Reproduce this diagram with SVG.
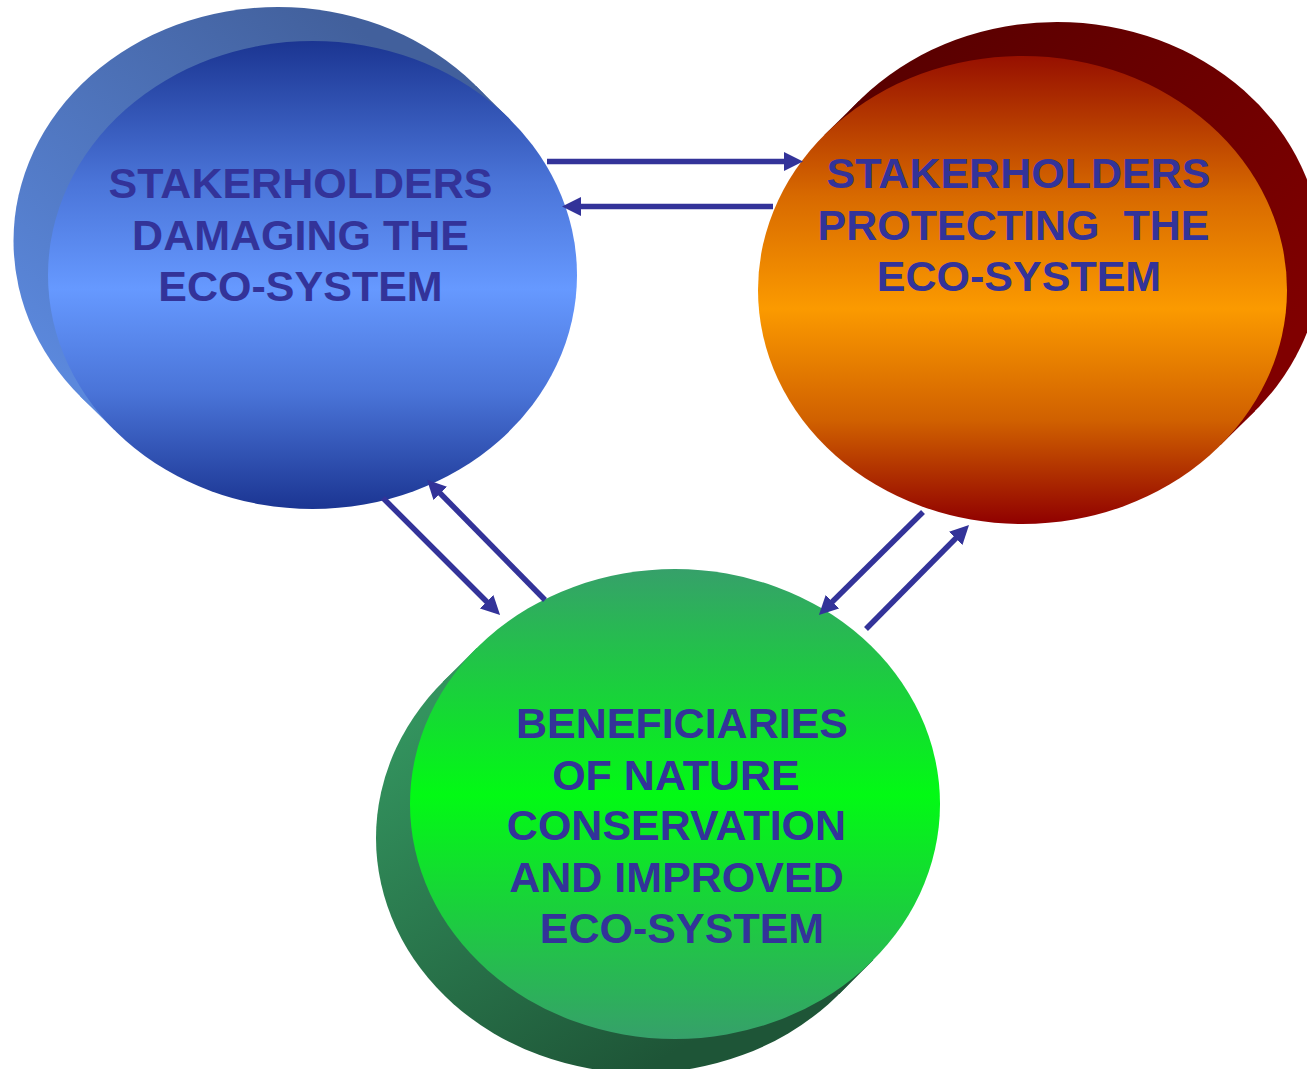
<svg xmlns="http://www.w3.org/2000/svg" width="1307" height="1069" viewBox="0 0 1307 1069">
<defs>
<linearGradient id="gBlue" x1="0" y1="0" x2="0" y2="1"><stop offset="0" stop-color="#1b3592"/><stop offset="0.3" stop-color="#4a74d8"/><stop offset="0.53" stop-color="#6699ff"/><stop offset="0.75" stop-color="#4a74d8"/><stop offset="1" stop-color="#1b3592"/></linearGradient>
<linearGradient id="gBlueSide" x1="0.6" y1="0" x2="0" y2="0.7"><stop offset="0" stop-color="#42609c"/><stop offset="1" stop-color="#5b88dc"/></linearGradient>
<linearGradient id="gOrange" x1="0" y1="0" x2="0" y2="1"><stop offset="0" stop-color="#971000"/><stop offset="0.3" stop-color="#d86a00"/><stop offset="0.54" stop-color="#fb9a00"/><stop offset="0.78" stop-color="#d06000"/><stop offset="1" stop-color="#900000"/></linearGradient>
<linearGradient id="gOrangeSide" x1="0.3" y1="0" x2="1" y2="0.6"><stop offset="0" stop-color="#5a0000"/><stop offset="1" stop-color="#800000"/></linearGradient>
<linearGradient id="gGreen" x1="0" y1="0" x2="0" y2="1"><stop offset="0" stop-color="#36a06a"/><stop offset="0.48" stop-color="#02fa14"/><stop offset="1" stop-color="#36a06a"/></linearGradient>
<linearGradient id="gGreenSide" x1="0" y1="0.3" x2="0.5" y2="1"><stop offset="0" stop-color="#33935e"/><stop offset="1" stop-color="#1e5537"/></linearGradient>
<marker id="arrow" markerUnits="userSpaceOnUse" markerWidth="22" markerHeight="20" refX="9" refY="9.5" orient="auto">
<path d="M0,0 L19,9.5 L0,19 z" fill="#333399"/>
</marker>
</defs>
<style>
.lbl{font-family:"Liberation Sans",Arial,sans-serif;font-weight:bold;font-size:43px;fill:#333399;text-anchor:middle}
.conn{stroke:#333399;stroke-width:5.5;fill:none;marker-end:url(#arrow)}
</style>
<rect width="1307" height="1069" fill="#ffffff"/>
<g id="node-damaging">
<ellipse cx="278" cy="241" rx="264.5" ry="234" fill="url(#gBlueSide)"/>
<polygon points="510.6,120 476.1,86 79.9,396 114.4,430" fill="url(#gBlueSide)"/>
<ellipse cx="312.5" cy="275" rx="264.5" ry="234" fill="url(#gBlue)"/>
<text class="lbl" x="300.5" y="198">STAKERHOLDERS</text>
<text class="lbl" x="300.5" y="250">DAMAGING THE</text>
<text class="lbl" x="300.5" y="301">ECO-SYSTEM</text>
</g>
<g id="node-protecting">
<ellipse cx="1057" cy="256" rx="264.5" ry="234" fill="url(#gOrangeSide)"/>
<polygon points="824.4,135 858.9,101 1255.1,411 1220.6,445" fill="url(#gOrangeSide)"/>
<ellipse cx="1022.5" cy="290" rx="264.5" ry="234" fill="url(#gOrange)"/>
<text class="lbl" x="1018.5" y="188">STAKERHOLDERS</text>
<text class="lbl" x="1013.5" y="240" xml:space="preserve">PROTECTING  THE</text>
<text class="lbl" x="1019" y="291">ECO-SYSTEM</text>
</g>
<g id="node-beneficiaries">
<ellipse cx="641" cy="838" rx="265" ry="235" fill="url(#gGreenSide)"/>
<polygon points="476.7,648.1 442.7,682.1 839.3,993.9 873.3,959.9" fill="url(#gGreenSide)"/>
<ellipse cx="675" cy="804" rx="265" ry="235" fill="url(#gGreen)"/>
<text class="lbl" x="682" y="738">BENEFICIARIES</text>
<text class="lbl" x="676" y="790">OF NATURE</text>
<text class="lbl" x="676.5" y="840">CONSERVATION</text>
<text class="lbl" x="676.5" y="892">AND IMPROVED</text>
<text class="lbl" x="682" y="943">ECO-SYSTEM</text>
</g>
<g id="connectors">
<line class="conn" x1="547" y1="161.5" x2="793" y2="161.5"/>
<line class="conn" x1="773" y1="206.5" x2="572" y2="206.5"/>
<line class="conn" x1="383" y1="498" x2="493" y2="608"/>
<line class="conn" x1="545" y1="600" x2="434" y2="487"/>
<line class="conn" x1="923" y1="512" x2="826" y2="608"/>
<line class="conn" x1="866" y1="629" x2="962" y2="532"/>
</g>
</svg>
